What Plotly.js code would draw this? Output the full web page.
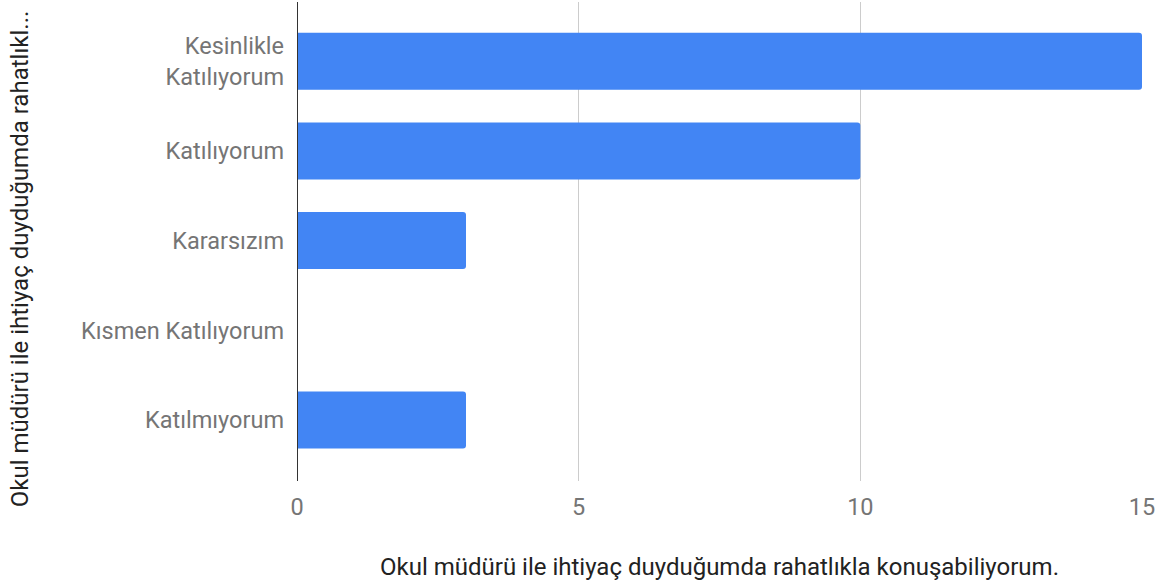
<!DOCTYPE html>
<html>
<head>
<meta charset="utf-8">
<script src="https://cdn.plot.ly/plotly-3.0.1.min.js"></script>
<style>html,body{margin:0;padding:0;background:#fff}#chart{width:1172px;height:585px}</style>
</head>
<body>
<div id="chart"></div>
<script>
const categories = ["Kesinlikle Katılıyorum", "Katılıyorum", "Kararsızım", "Kısmen Katılıyorum", "Katılmıyorum"];
const tickLabels = ["Kesinlikle<br>Katılıyorum", "Katılıyorum", "Kararsızım", "Kısmen Katılıyorum", "Katılmıyorum"];
const values = [15, 10, 3, 0, 3];
const xTickValues = [0, 5, 10, 15];
const xTitle = "Okul müdürü ile ihtiyaç duyduğumda rahatlıkla konuşabiliyorum.";
const yTitle = "Okul müdürü ile ihtiyaç duyduğumda rahatlıkl...";

const trace = {
  type: "bar",
  orientation: "h",
  x: values,
  y: categories,
  marker: {color: "#4285f4", cornerradius: 3},
  width: 0.635,
  hoverinfo: "x+y"
};

const layout = {
  width: 1172,
  height: 585,
  margin: {l: 297, r: 30, t: 2, b: 104},
  paper_bgcolor: "#fff",
  plot_bgcolor: "#fff",
  font: {family: "Roboto, Arial, sans-serif", size: 23.5, color: "#757575"},
  showlegend: false,
  xaxis: {
    range: [0, 15],
    tickvals: xTickValues,
    ticktext: xTickValues.map(String),
    showgrid: true,
    gridcolor: "#cccccc",
    gridwidth: 1,
    zeroline: false,
    showline: false,
    ticks: "",
    ticklabelstandoff: 9,
    tickfont: {size: 23.5, color: "#757575"},
    title: {text: xTitle, font: {size: 24, color: "#222222"}, standoff: 38}
  },
  yaxis: {
    type: "category",
    range: [4.68, -0.66],
    tickvals: categories,
    ticktext: tickLabels,
    showgrid: false,
    zeroline: false,
    showline: false,
    ticks: "",
    ticklabelstandoff: 12,
    tickfont: {size: 23.5, color: "#757575"}
  },
  shapes: [{
    type: "line", xref: "x", yref: "paper",
    x0: 0, x1: 0, y0: 0, y1: 1,
    line: {color: "#333333", width: 2}
  }],
  annotations: [{
    text: yTitle,
    xref: "paper", yref: "paper",
    x: 0, y: 0.463,
    xanchor: "center", yanchor: "middle",
    xshift: -277,
    textangle: -90,
    showarrow: false,
    font: {size: 24, color: "#222222"}
  }]
};

Plotly.newPlot("chart", [trace], layout, {displayModeBar: false, staticPlot: true});
</script>
</body>
</html>
